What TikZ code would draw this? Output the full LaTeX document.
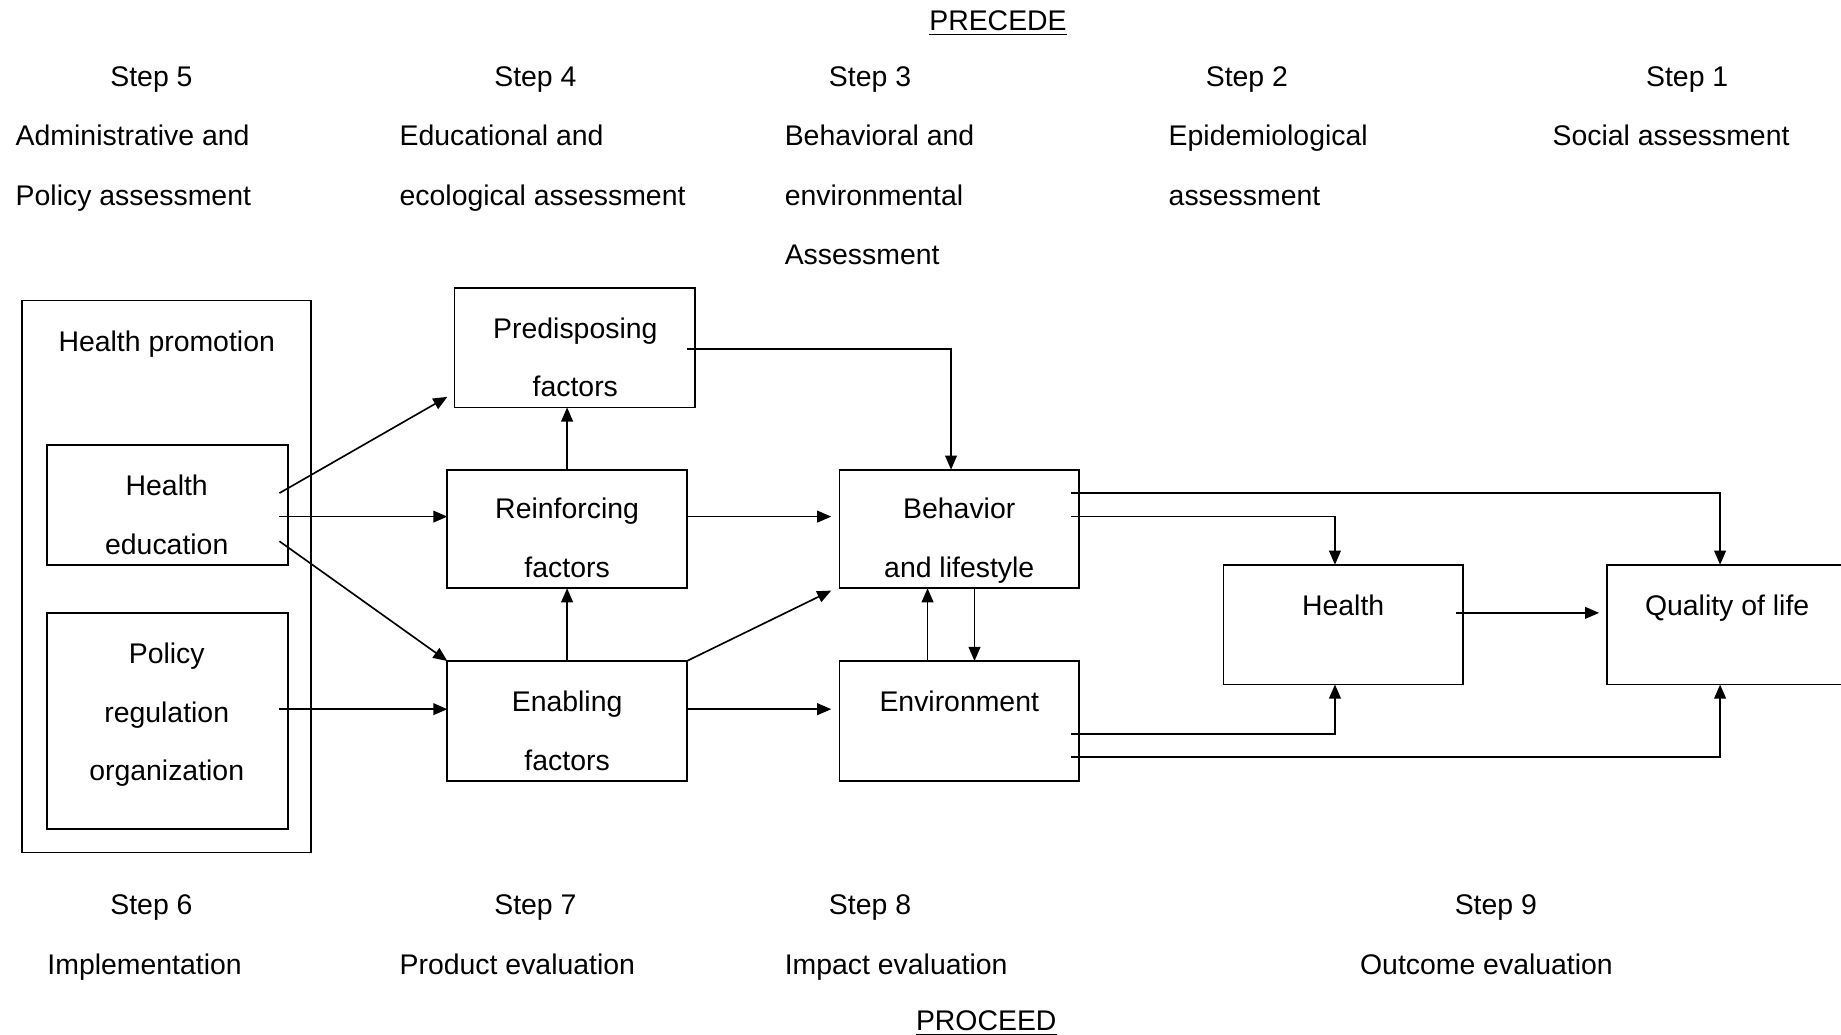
\documentclass[tikz,border=0pt]{standalone}
\usepackage{fontspec}
\setmainfont{Liberation Sans}
\usepackage{tikz}
\usetikzlibrary{arrows.meta, calc}

\begin{document}
\begin{tikzpicture}[x=0.5pt,y=-0.5pt,>={Triangle[length=6pt,width=5pt]},
        font=\fontsize{12.1}{15}\selectfont,
        box/.style={draw,line width=0.75pt,inner sep=0pt,outer sep=0pt,minimum width=102pt,minimum height=51pt},
        txt/.style={anchor=base,inner sep=0pt},
        ltxt/.style={anchor=base west,inner sep=0pt},
        conn/.style={->,line width=0.7pt}]
        \useasboundingbox (0,0) rectangle (1568,881);
        % boxes
        \node[box,minimum width=123pt,minimum height=235pt](hp) at (142,491){};
        \node[box,minimum width=102.5pt](he) at (142.5,430){};
        \node[box,minimum width=102.5pt,minimum height=92pt](pol) at (142.5,614){};
        \node[box,minimum width=102.5pt](pre) at (489.5,296){};
        \node[box,minimum height=50.5pt](rei) at (483,450.5){};
        \node[box](ena) at (483,614){};
        \node[box,minimum height=50.5pt](beh) at (817,450.5){};
        \node[box](env) at (817,614){};
        \node[box](hea) at (1144,532){};
        \node[box](qol) at (1471,532){};
        % texts in the boxes
        \node[txt](hpT) at (142,299){Health promotion};
        \node[txt](heT1) at (142,422){Health};
        \node[txt](heT2) at (142,472){education};
        \node[txt](polT1) at (142,565){Policy};
        \node[txt](polT2) at (142,615){regulation};
        \node[txt](polT3) at (142,665){organization};
        \node[txt](preT1) at (490,288){Predisposing};
        \node[txt](preT2) at (490,338){factors};
        \node[txt](reiT1) at (483,442){Reinforcing};
        \node[txt](reiT2) at (483,492){factors};
        \node[txt](enaT1) at (483,606){Enabling};
        \node[txt](enaT2) at (483,656){factors};
        \node[txt](behT1) at (817,442){Behavior};
        \node[txt](behT2) at (817,492){and lifestyle};
        \node[txt](envT) at (817,606){Environment};
        \node[txt](heaT) at (1144,524){Health};
        \node[txt](qolT) at (1471,524){Quality of life};
        % PRECEDE
        \node[txt](precede) at (850,26){\underline{PRECEDE}};
        \node[txt](s5) at (129,74){Step 5};
        \node[txt](s4) at (456,74){Step 4};
        \node[txt](s3) at (741,74){Step 3};
        \node[txt](s2) at (1062,74){Step 2};
        \node[txt](s1) at (1437,74){Step 1};
        \node[ltxt](s5a) at (13,124){Administrative and};
        \node[ltxt](s5b) at (13,175){Policy assessment};
        \node[ltxt](s4a) at (340,124){Educational and};
        \node[ltxt](s4b) at (340,175){ecological assessment};
        \node[ltxt](s3a) at (668,124){Behavioral and};
        \node[ltxt](s3b) at (668,175){environmental};
        \node[ltxt](s3c) at (668,225){Assessment};
        \node[ltxt](s2a) at (995,124){Epidemiological};
        \node[ltxt](s2b) at (995,175){assessment};
        \node[ltxt](s1a) at (1322,124){Social assessment};
        % PROCEED
        \node[txt](s6) at (129,779){Step 6};
        \node[txt](s7) at (456,779){Step 7};
        \node[txt](s8) at (741,779){Step 8};
        \node[txt](s9) at (1274,779){Step 9};
        \node[ltxt](s6a) at (40,830){Implementation};
        \node[ltxt](s7a) at (340,830){Product evaluation};
        \node[ltxt](s8a) at (668,830){Impact evaluation};
        \node[ltxt](s9a) at (1158,830){Outcome evaluation};
        \node[txt](proceed) at (840,878){\underline{PROCEED}};
        % connectors
        \draw[conn] ($(he.east)+(-7,-10)$) -- ($(pre.south west)+(-6,-9)$);
        \draw[conn] ($(he.east)+(-7,10)$) -- ($(rei.west)+(0,-10.5)$);
        \draw[conn] ($(he.east)+(-7,31)$) -- (ena.north west);
        \draw[conn] ($(pol.east)+(-7,-10)$) -- ($(ena.west)+(0,-10)$);
        \draw[conn] (rei.north) -- (rei.north |- pre.south);
        \draw[conn] (ena.north) -- (rei.south);
        \draw[conn] ($(pre.east)+(-7,1)$) -| ($(beh.north)+(-7,0)$);
        \draw[conn] ($(rei.east)+(0,-10.5)$) -- ($(beh.west)+(-7,-10.5)$);
        \draw[conn] (ena.north east) -- ($(beh.south west)+(-7,2)$);
        \draw[conn] ($(ena.east)+(0,-10)$) -- ($(env.west)+(-7,-10)$);
        \draw[conn] ($(env.north)+(-27,0)$) -- ($(beh.south)+(-27,0)$);
        \draw[conn] ($(beh.south)+(13,0)$) -- ($(env.north)+(13,0)$);
        \draw[conn] ($(beh.east)+(-7,-30.5)$) -| ($(qol.north)+(-6,0)$);
        \draw[conn] ($(beh.east)+(-7,-10.5)$) -| ($(hea.north)+(-7,0)$);
        \draw[conn] ($(hea.east)+(-6,-10)$) -- ($(qol.west)+(-7,-10)$);
        \draw[conn] ($(env.east)+(-7,11)$) -| ($(hea.south)+(-7,0)$);
        \draw[conn] ($(env.east)+(-7,31)$) -| ($(qol.south)+(-6,0)$);
\end{tikzpicture}
\end{document}
